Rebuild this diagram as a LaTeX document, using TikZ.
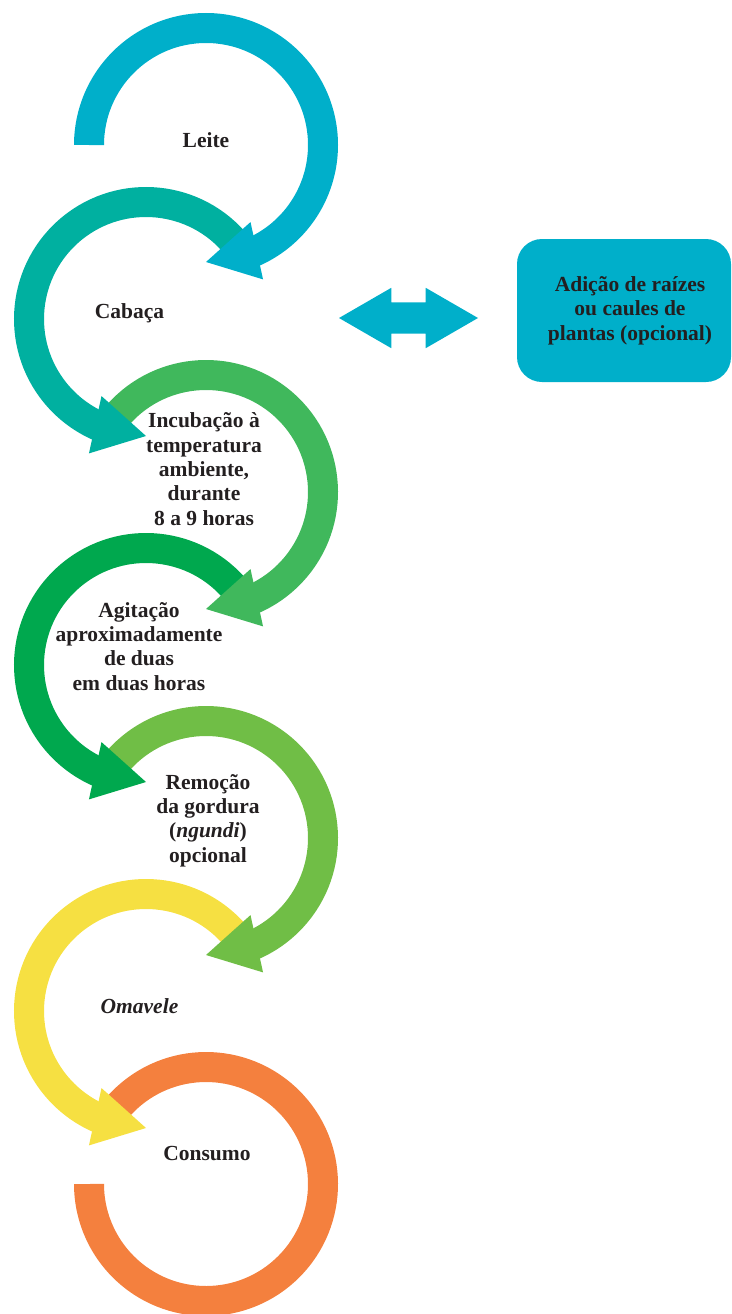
\documentclass[tikz,border=0pt]{standalone}
\usepackage{fontspec}
\setmainfont{Liberation Serif}
\usepackage{xcolor}
\usetikzlibrary{shapes.arrows}
\definecolor{leitecyan}{RGB}{0,175,202}
\definecolor{cabteal}{RGB}{0,176,160}
\definecolor{incgreen}{RGB}{64,184,92}
\definecolor{agigreen}{RGB}{0,168,78}
\definecolor{remgreen}{RGB}{112,190,70}
\definecolor{omayellow}{RGB}{246,224,66}
\definecolor{consorange}{RGB}{244,128,62}
\definecolor{texto}{RGB}{35,31,32}
\tikzstyle{every node}=[font=\fontsize{21.5}{24.3}\selectfont\bfseries, text=texto, inner sep=0pt, align=center]
\tikzstyle{faixa}=[line width=30pt]

\begin{document}
\begin{tikzpicture}[x=1pt, y=1pt]
	\useasboundingbox (0,0) rectangle (731,-1314);
	
	\coordinate (c1) at (206,-145);
	\coordinate (c2) at (146,-319);
	\coordinate (c3) at (206,-492);
	\coordinate (c4) at (146,-665);
	\coordinate (c5) at (206,-838);
	\coordinate (c6) at (146,-1011);
	\coordinate (c7) at (206,-1184);
	
	% ultimo arco (sem seta)
	\draw[faixa, consorange] ([shift={(138:117)}]c7) arc [start angle=138, end angle=-180, radius=117];
	
	% arcos com seta, de baixo para cima
	\foreach \c/\a/\b/\ai/\ao/\t/\col in {c6/42/248/240/247/270/omayellow, c5/138/-68/-60/-67/-90/remgreen, c4/42/248/240/247/270/agigreen, c3/138/-68/-60/-67/-90/incgreen, c2/42/248/240/247/270/cabteal, c1/180/-68/-60/-67/-90/leitecyan}{
		\draw[faixa, \col] ([shift={(\a:117)}]\c) arc [start angle=\a, end angle=\b, radius=117];
		\fill[\col] ([shift={(\ai:89)}]\c) -- ([shift={(\ao:146)}]\c) -- ([shift={(\t:117)}]\c) -- cycle;
	}
	
	% etapas (base = ultima linha)
	\node[anchor=base] (leite) at (206,-147) {Leite};
	\node[anchor=base] (cabaca) at (129.5,-318) {Cabaça};
	\node[anchor=base] (incubacao) at (204,-525) {Incubação à\\temperatura\\ambiente,\\durante\\8 a 9 horas};
	\node[anchor=base] (agitacao) at (139,-690) {Agitação\\aproximadamente\\de duas\\em duas horas};
	\node[anchor=base] (remocao) at (208,-862) {Remoção\\da gordura\\(\textit{ngundi})\\opcional};
	\node[anchor=base] (omavele) at (139.5,-1013) {\itshape Omavele};
	\node[anchor=base] (consumo) at (207,-1160) {Consumo};
	
	% caixa lateral
	\fill[leitecyan, rounded corners=25pt] (517,-239) rectangle (731,-382);
	\node[anchor=base] (adicao) at (630,-340) {Adição de raízes\\ou caules de\\plantas (opcional)};
	\node[double arrow, fill=leitecyan, inner ysep=15.5pt, minimum height=139pt, minimum width=60pt, double arrow head extend=14.5pt, double arrow tip angle=60] (ligacao) at (408.5,-318) {};
\end{tikzpicture}
\end{document}
